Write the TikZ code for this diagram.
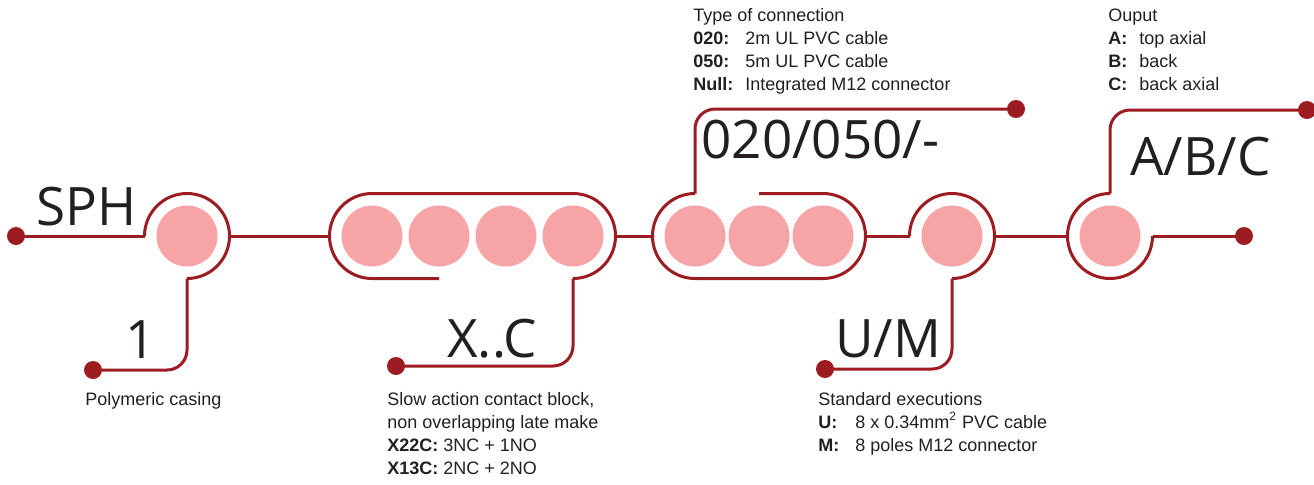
\documentclass[tikz,border=0pt]{standalone}
\usepackage{fontspec}
\setmainfont{Liberation Sans}
\newfontfamily\codefont{Open Sans}
\usepackage{tikz}
\definecolor{wirered}{RGB}{157,28,34}
\definecolor{beadpink}{RGB}{246,164,165}
\definecolor{inkgray}{RGB}{35,31,32}
\begin{document}
\begin{tikzpicture}[x=0.5pt,y=-0.5pt,
wire/.style={draw=wirered, line width=1.5pt},
leader/.style={wire, rounded corners=10pt},
bead/.style={circle, fill=beadpink, minimum size=30.5pt, inner sep=0pt},
pin/.style={circle, fill=wirered, minimum size=9pt, inner sep=0pt},
code/.style={font=\codefont\fontsize{26.5}{26.5}\selectfont, text=inkgray, anchor=base west, inner sep=0pt},
note/.style={font=\fontsize{9}{11.5}\selectfont, text=inkgray, anchor=base west, inner sep=0pt}]
\useasboundingbox (0,0) rectangle (1314,484);
\foreach \n/\x in {1/187,2/372,3/439,4/506,5/573,6/695,7/759,8/823,9/952,10/1110}
  \node[bead] (b\n) at (\x,236) {};
\node[pin] (p1) at (16,236) {};
\node[pin] (p2) at (93,370) {};
\node[pin] (p3) at (396,366) {};
\node[pin] (p4) at (1016,109) {};
\node[pin] (p5) at (825,369) {};
\node[pin] (p6) at (1307,110) {};
\node[pin] (p7) at (1244,236) {};
% main line
\draw[wire] (p1.center) -- ([xshift=-21.25pt]b1.center);
\draw[wire] ([xshift=21.25pt]b1.center) -- ([xshift=-21.25pt]b2.center);
\draw[wire] ([xshift=21.25pt]b5.center) -- ([xshift=-21.25pt]b6.center);
\draw[wire] ([xshift=21.25pt]b8.center) -- ([xshift=-21.25pt]b9.center);
\draw[wire] ([xshift=21.25pt]b9.center) -- ([xshift=-21.25pt]b10.center);
\draw[wire] ([xshift=21.25pt]b10.center) -- (p7.center);
% shells
\draw[wire] ([xshift=-21.25pt]b1.center) arc[start angle=180, end angle=-90, radius=21.25pt];
\draw[wire] ([yshift=-21.25pt]b3.center) -- ([yshift=-21.25pt]b2.center)
  arc[start angle=270, end angle=90, radius=21.25pt] -- ([yshift=21.25pt]b5.center)
  arc[start angle=90, end angle=-90, radius=21.25pt];
\draw[wire] ([yshift=21.25pt]b7.center) -- ([yshift=21.25pt]b8.center)
  arc[start angle=90, end angle=-90, radius=21.25pt] -- ([yshift=-21.25pt]b6.center)
  arc[start angle=270, end angle=90, radius=21.25pt];
\draw[wire] ([xshift=-21.25pt]b9.center) arc[start angle=180, end angle=-90, radius=21.25pt];
\draw[wire] ([yshift=21.25pt]b10.center) arc[start angle=90, end angle=360, radius=21.25pt];
% leaders
\draw[leader] ([yshift=-21.25pt]b1.center) |- (p2.center);
\draw[leader] ([yshift=-21.25pt]b5.center) |- (p3.center);
\draw[leader] ([yshift=21.25pt]b6.center) |- (p4.center);
\draw[leader] ([yshift=-21.25pt]b9.center) |- (p5.center);
\draw[leader] ([yshift=21.25pt]b10.center) |- (p6.center);
% codes
\node[code] (sph) at (36,225) {SPH};
\node[code] (casing) at (125,358) {1};
\node[code] (contacts) at (447,357) {X..C};
\node[code] (cable) at (701,158) {020/050/-};
\node[code] (execution) at (835,357) {U/M};
\node[code] (output) at (1130,175) {A/B/C};
% notes
\node[note] (casing-note) at (85,405) {Polymeric casing};
\node[note] (contacts-note) at (387,405) {\begin{tabular}[t]{@{}l@{}}
Slow action contact block,\\
non overlapping late make\\
\textbf{X22C:} 3NC + 1NO\\
\textbf{X13C:} 2NC + 2NO\end{tabular}};
\node[note] (execution-note) at (818,405) {\begin{tabular}[t]{@{}p{18.5pt}@{}l@{}}
\multicolumn{2}{@{}l@{}}{Standard executions}\\
\textbf{U:} & 8 x 0.34mm\textsuperscript{2} PVC cable\\
\textbf{M:} & 8 poles M12 connector\end{tabular}};
\node[note] (cable-note) at (693,21) {\begin{tabular}[t]{@{}p{26pt}@{}l@{}}
\multicolumn{2}{@{}l@{}}{Type of connection}\\
\textbf{020:} & 2m UL PVC cable\\
\textbf{050:} & 5m UL PVC cable\\
\textbf{Null:} & Integrated M12 connector\end{tabular}};
\node[note] (output-note) at (1108,21) {\begin{tabular}[t]{@{}p{15.5pt}@{}l@{}}
\multicolumn{2}{@{}l@{}}{Ouput}\\
\textbf{A:} & top axial\\
\textbf{B:} & back\\
\textbf{C:} & back axial\end{tabular}};
\end{tikzpicture}
\end{document}
